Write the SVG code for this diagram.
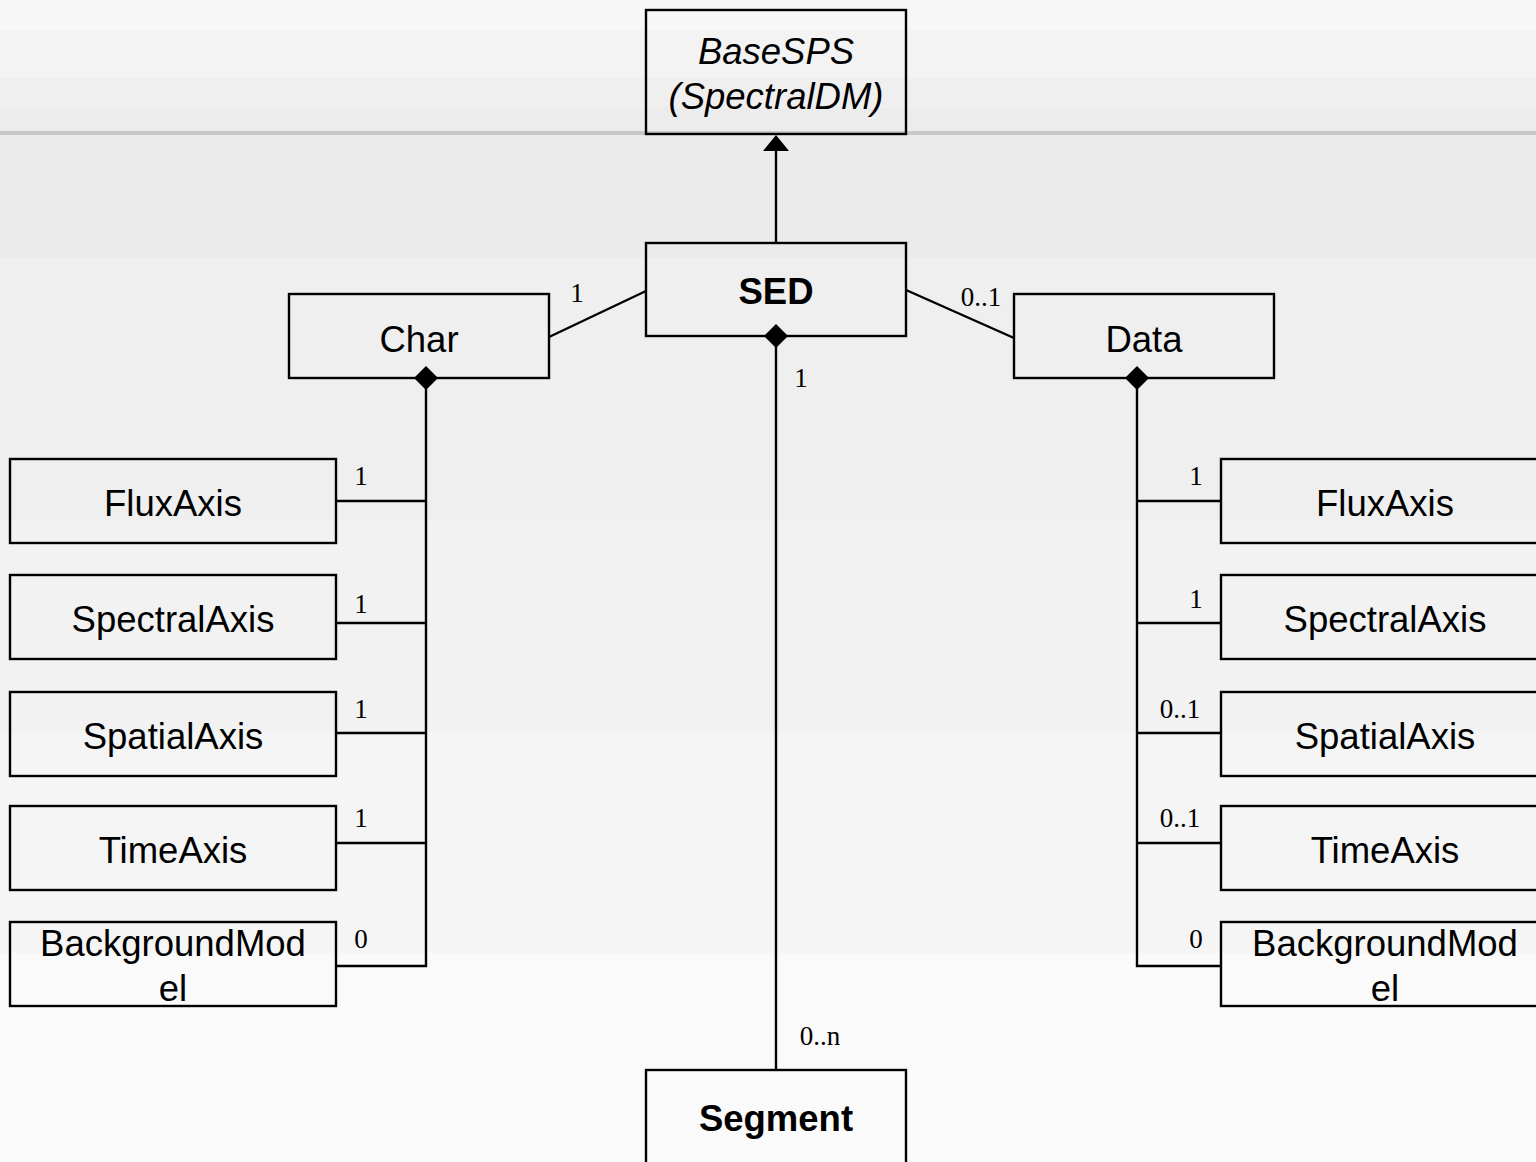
<svg xmlns="http://www.w3.org/2000/svg" width="1536" height="1162" viewBox="0 0 1536 1162">
<style>
.box{fill:none;stroke:#000;stroke-width:2.4}
.ln{fill:none;stroke:#000;stroke-width:2.4}
.head{fill:#000}
.t{font-family:"Liberation Sans",Arial,sans-serif;font-size:36.5px;fill:#000;text-anchor:middle}
.b{font-weight:bold}
.i{font-style:italic}
.m{font-family:"Liberation Serif","Times New Roman",serif;font-size:27px;fill:#000;text-anchor:middle}
</style>
<g id="background">
<rect x="0" y="0" width="1536" height="1162" fill="#fafafa"/>
<rect x="0" y="0" width="1536" height="30" fill="#f7f7f7"/>
<rect x="0" y="30" width="1536" height="48" fill="#f3f3f3"/>
<rect x="0" y="78" width="1536" height="30" fill="#f0efef"/>
<rect x="0" y="108" width="1536" height="23" fill="#edecec"/>
<rect x="0" y="131" width="1536" height="4" fill="#c8c8c8"/>
<rect x="0" y="135" width="1536" height="123" fill="#ebebeb"/>
<rect x="0" y="258" width="1536" height="262" fill="#efefef"/>
<rect x="0" y="520" width="1536" height="213" fill="#f2f2f2"/>
<rect x="0" y="733" width="1536" height="220" fill="#f5f5f5"/>
</g>
<g id="connectors">
<line class="ln" x1="776" y1="243" x2="776" y2="145"/>
<polygon class="head" points="776,135 763,151 789,151"/>
<line class="ln" x1="646" y1="291" x2="549" y2="337"/>
<line class="ln" x1="906" y1="290" x2="1014" y2="338"/>
<line class="ln" x1="776" y1="336" x2="776" y2="1070"/>
<polygon class="head" points="776,324 788,336 776,348 764,336"/>
<polyline class="ln" points="426,378 426,966 336,966"/>
<polygon class="head" points="426,366 438,378 426,390 414,378"/>
<line class="ln" x1="336" y1="501" x2="426" y2="501"/>
<line class="ln" x1="336" y1="623" x2="426" y2="623"/>
<line class="ln" x1="336" y1="733" x2="426" y2="733"/>
<line class="ln" x1="336" y1="843" x2="426" y2="843"/>
<polyline class="ln" points="1137,378 1137,966 1221,966"/>
<polygon class="head" points="1137,366 1149,378 1137,390 1125,378"/>
<line class="ln" x1="1137" y1="501" x2="1221" y2="501"/>
<line class="ln" x1="1137" y1="623" x2="1221" y2="623"/>
<line class="ln" x1="1137" y1="733" x2="1221" y2="733"/>
<line class="ln" x1="1137" y1="843" x2="1221" y2="843"/>
<text class="m" x="577" y="302">1</text>
<text class="m" x="981" y="306">0..1</text>
<text class="m" x="801" y="387">1</text>
<text class="m" x="820" y="1045">0..n</text>
<text class="m" x="361" y="485">1</text>
<text class="m" x="361" y="613">1</text>
<text class="m" x="361" y="718">1</text>
<text class="m" x="361" y="827">1</text>
<text class="m" x="361" y="948">0</text>
<text class="m" x="1196" y="485">1</text>
<text class="m" x="1196" y="608">1</text>
<text class="m" x="1180" y="718">0..1</text>
<text class="m" x="1180" y="827">0..1</text>
<text class="m" x="1196" y="948">0</text>
</g>
<g id="BaseSPS">
<rect class="box" x="646" y="10" width="260" height="124"/>
<text class="t i" x="776" y="64">BaseSPS</text>
<text class="t i" x="776" y="109">(SpectralDM)</text>
</g>
<g id="SED">
<rect class="box" x="646" y="243" width="260" height="93"/>
<text class="t b" x="776" y="304">SED</text>
</g>
<g id="Char">
<rect class="box" x="289" y="294" width="260" height="84"/>
<text class="t" x="419" y="352">Char</text>
</g>
<g id="Data">
<rect class="box" x="1014" y="294" width="260" height="84"/>
<text class="t" x="1144" y="352">Data</text>
</g>
<g id="Segment">
<rect class="box" x="646" y="1070" width="260" height="100"/>
<text class="t b" x="776" y="1131">Segment</text>
</g>
<g id="CharFluxAxis">
<rect class="box" x="10" y="459" width="326" height="84"/>
<text class="t" x="173" y="516">FluxAxis</text>
</g>
<g id="CharSpectralAxis">
<rect class="box" x="10" y="575" width="326" height="84"/>
<text class="t" x="173" y="632">SpectralAxis</text>
</g>
<g id="CharSpatialAxis">
<rect class="box" x="10" y="692" width="326" height="84"/>
<text class="t" x="173" y="749">SpatialAxis</text>
</g>
<g id="CharTimeAxis">
<rect class="box" x="10" y="806" width="326" height="84"/>
<text class="t" x="173" y="863">TimeAxis</text>
</g>
<g id="CharBackgroundModel">
<rect class="box" x="10" y="922" width="326" height="84"/>
<text class="t" x="173" y="956">BackgroundMod</text>
<text class="t" x="173" y="1001">el</text>
</g>
<g id="DataFluxAxis">
<rect class="box" x="1221" y="459" width="326" height="84"/>
<text class="t" x="1385" y="516">FluxAxis</text>
</g>
<g id="DataSpectralAxis">
<rect class="box" x="1221" y="575" width="326" height="84"/>
<text class="t" x="1385" y="632">SpectralAxis</text>
</g>
<g id="DataSpatialAxis">
<rect class="box" x="1221" y="692" width="326" height="84"/>
<text class="t" x="1385" y="749">SpatialAxis</text>
</g>
<g id="DataTimeAxis">
<rect class="box" x="1221" y="806" width="326" height="84"/>
<text class="t" x="1385" y="863">TimeAxis</text>
</g>
<g id="DataBackgroundModel">
<rect class="box" x="1221" y="922" width="326" height="84"/>
<text class="t" x="1385" y="956">BackgroundMod</text>
<text class="t" x="1385" y="1001">el</text>
</g>
</svg>
